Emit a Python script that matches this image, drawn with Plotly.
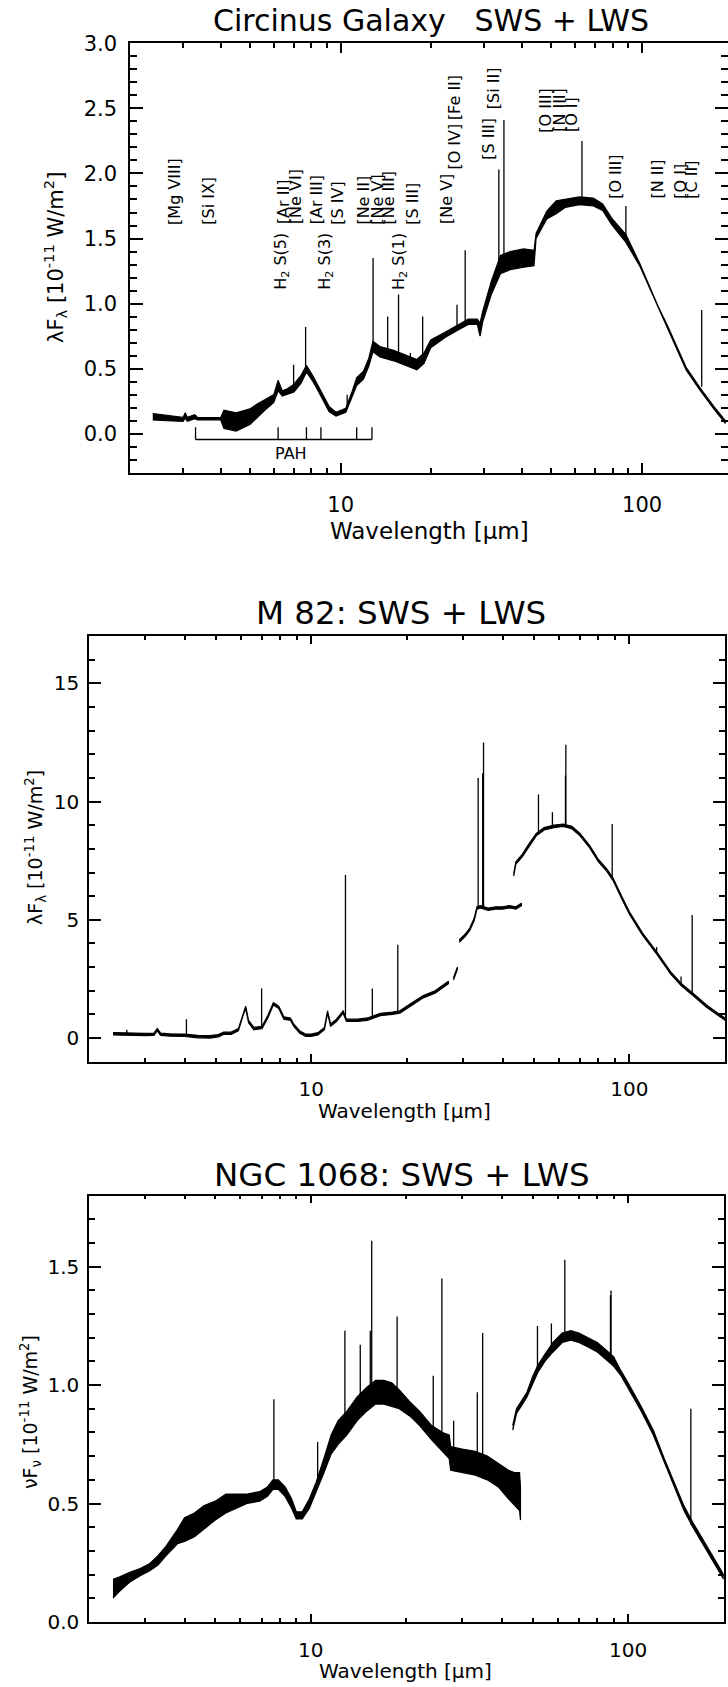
import math
import plotly.graph_objects as go

W, H = 728, 1687
FONT = "DejaVu Sans"

# ---------------- Circinus (panel 1) ----------------
circ_wl = [2.38, 2.65, 3.0, 3.05, 3.1, 3.28, 3.35, 3.64, 4.0, 4.1,
           4.5, 5.0, 5.3, 5.6, 6.0, 6.2, 6.4, 6.6, 7.0, 7.4,
           7.7, 8.1, 8.5, 9.15, 9.65, 10.4, 10.9, 11.3, 11.9, 12.4,
           12.8, 13.5, 15.0, 16.1, 17.9, 18.9, 19.9, 22.2, 24.7, 26.5,
           28.4, 29.0, 29.6, 31.6, 33.9, 36.5, 40.5, 43.8, 44.5, 48.3,
           51.9, 55.7, 62.0, 68.9, 74.0, 79.4, 88.4, 98.2, 113.0, 121.5,
           140.0, 156.0, 173.0, 189.0]
circ_flux = [0.13, 0.12, 0.11, 0.14, 0.11, 0.13, 0.115, 0.115, 0.115, 0.11,
             0.09, 0.13, 0.18, 0.22, 0.27, 0.37, 0.31, 0.32, 0.35, 0.42,
             0.50, 0.42, 0.33, 0.19, 0.15, 0.18, 0.30, 0.40, 0.45, 0.55,
             0.67, 0.63, 0.60, 0.57, 0.53, 0.58, 0.69, 0.76, 0.82, 0.86,
             0.86, 0.80, 0.90, 1.12, 1.30, 1.33, 1.35, 1.35, 1.52, 1.68,
             1.74, 1.77, 1.79, 1.78, 1.74, 1.63, 1.50, 1.30, 0.97, 0.82,
             0.50, 0.34, 0.20, 0.09]
circ_noise = [0.025, 0.02, 0.015, 0.02, 0.015, 0.015, 0.01, 0.008, 0.01, 0.07,
              0.07, 0.06, 0.05, 0.04, 0.03, 0.04, 0.02, 0.02, 0.03, 0.03,
              0.025, 0.02, 0.02, 0.02, 0.015, 0.015, 0.02, 0.03, 0.03, 0.03,
              0.04, 0.04, 0.04, 0.04, 0.04, 0.04, 0.03, 0.02, 0.02, 0.02,
              0.02, 0.05, 0.04, 0.05, 0.07, 0.07, 0.07, 0.06, 0.02, 0.03,
              0.05, 0.03, 0.03, 0.03, 0.025, 0.025, 0.03, 0.01, 0.01, 0.01,
              0.01, 0.01, 0.01, 0.01]
circ_line_wl = [6.98, 7.65, 10.51, 12.81, 14.32, 15.56, 17.03, 18.71, 24.32, 25.89,
                33.48, 34.81, 63.18, 88.36, 157.7]
circ_line_base = [0.35, 0.50, 0.19, 0.67, 0.62, 0.58, 0.55, 0.55, 0.82, 0.85,
                  1.30, 1.32, 1.79, 1.50, 0.36]
circ_line_peak = [0.53, 0.82, 0.30, 1.35, 0.90, 1.07, 0.62, 0.90, 0.99, 1.41,
                  2.03, 2.41, 2.25, 1.75, 0.95]
circ_label_text = ["[Mg VIII]", "[Si IX]", "H<sub>2</sub> S(5)", "[Ar II]", "[Ne VI]",
                   "[Ar III]", "H<sub>2</sub> S(3)", "[S IV]", "[Ne II]", "[Ne V]",
                   "[Ne III]", "H<sub>2</sub> S(1)", "[S III]", "[Ne V]", "[O IV]",
                   "[Fe II]", "[S III]", "[Si II]", "[O III]", "[N III]",
                   "[O I]", "[O III]", "[N II]", "[O I]", "[C II]"]
circ_label_wl = [3.03, 3.94, 6.91, 6.98, 7.65,
                 8.99, 9.66, 10.51, 12.81, 14.32,
                 15.56, 17.03, 18.71, 24.32, 25.89,
                 25.99, 33.48, 34.81, 51.81, 57.32,
                 63.18, 88.36, 121.9, 145.5, 157.7]
circ_label_level = [1.6, 1.6, 1.1, 1.6, 1.6,
                    1.6, 1.1, 1.6, 1.6, 1.6,
                    1.6, 1.1, 1.6, 1.6, 2.02,
                    2.40, 2.10, 2.49, 2.31, 2.31,
                    2.31, 1.80, 1.80, 1.80, 1.80]
pah_wl = [3.3, 6.2, 7.7, 8.6, 11.3, 12.7]
pah_bar_level = -0.045
pah_tick_top = 0.05

# ---------------- M 82 (panel 2) ----------------
m82_sws_a_wl = [2.38, 2.6, 3.0, 3.2, 3.28, 3.36, 3.6, 4.0, 4.4, 4.8,
                5.1, 5.3, 5.6, 5.9, 6.1, 6.22, 6.35, 6.6, 7.0, 7.3,
                7.6, 7.9, 8.2, 8.6, 8.8, 9.2, 9.6, 10.0, 10.5, 11.0,
                11.25, 11.5, 12.0, 12.6, 12.9, 14.0, 15.0, 16.5, 18.0, 19.0,
                20.5, 22.5, 24.5, 26.0, 27.0]
m82_sws_a_flux = [0.18, 0.16, 0.15, 0.16, 0.35, 0.16, 0.13, 0.12, 0.06, 0.05,
                  0.10, 0.20, 0.20, 0.35, 1.00, 1.30, 0.70, 0.40, 0.45, 0.90,
                  1.45, 1.30, 0.85, 0.80, 0.55, 0.25, 0.12, 0.12, 0.18, 0.40,
                  1.10, 0.55, 0.75, 1.10, 0.75, 0.75, 0.80, 1.00, 1.05, 1.10,
                  1.40, 1.75, 1.95, 2.20, 2.35]
m82_sws_b_wl = [28.0, 28.4, 28.8]
m82_sws_b_flux = [2.5, 2.7, 2.95]
m82_sws_c_wl = [29.2, 30.5, 31.5, 32.5, 33.2, 34.0, 36.0, 38.0, 40.0, 42.0, 44.0, 45.8]
m82_sws_c_flux = [4.1, 4.35, 4.6, 5.0, 5.5, 5.55, 5.45, 5.5, 5.5, 5.55, 5.5, 5.65]
m82_lws_wl = [43.3, 44.0, 46.0, 48.0, 51.0, 54.0, 58.0, 62.0, 66.0, 70.0,
              75.0, 80.0, 85.0, 89.0, 95.0, 100.0, 110.0, 122.0, 135.0, 146.0,
              160.0, 175.0, 190.0, 200.0]
m82_lws_flux = [6.9, 7.4, 7.7, 8.1, 8.6, 8.85, 8.95, 9.0, 8.9, 8.6,
                8.1, 7.5, 7.1, 6.7, 5.9, 5.3, 4.4, 3.6, 2.75, 2.25,
                1.8, 1.35, 1.0, 0.8]
m82_noise = 0.05
m82_line_wl = [2.63, 4.05, 6.98, 12.81, 15.56, 18.71, 33.48, 34.6, 34.81,
               51.81, 57.32, 63.0, 63.18, 88.36, 121.9, 145.5, 157.7]
m82_line_base = [0.16, 0.12, 0.45, 0.95, 0.82, 1.07, 5.5, 5.5, 5.55,
                 8.6, 8.92, 9.0, 9.0, 6.7, 3.6, 2.3, 1.85]
m82_line_peak = [0.35, 0.8, 2.1, 6.9, 2.1, 3.95, 11.0, 11.2, 12.5,
                 10.3, 9.55, 11.1, 12.4, 9.05, 3.85, 2.6, 5.2]

# ---------------- NGC 1068 (panel 3) ----------------
n1068_sws_wl = [2.38, 2.5, 2.7, 2.9, 3.1, 3.3, 3.5, 3.8, 4.0, 4.3,
                4.6, 5.0, 5.4, 5.8, 6.3, 6.9, 7.3, 7.6, 7.9, 8.3,
                8.7, 9.0, 9.4, 9.9, 10.4, 11.0, 11.6, 12.2, 13.0, 14.0,
                15.0, 16.0, 17.0, 18.0, 19.0, 20.5, 22.0, 24.0, 26.0, 27.3,
                27.6, 30.0, 33.0, 36.0, 39.0, 42.0, 44.0, 45.5, 45.8]
n1068_sws_flux = [0.14, 0.16, 0.19, 0.21, 0.23, 0.26, 0.30, 0.36, 0.39, 0.41,
                  0.44, 0.47, 0.50, 0.51, 0.52, 0.53, 0.55, 0.58, 0.58, 0.55,
                  0.50, 0.45, 0.45, 0.50, 0.57, 0.66, 0.75, 0.80, 0.84, 0.90,
                  0.94, 0.97, 0.97, 0.96, 0.94, 0.90, 0.86, 0.80, 0.76, 0.74,
                  0.69, 0.68, 0.67, 0.65, 0.62, 0.58, 0.56, 0.55, 0.50]
n1068_sws_noise = [0.04, 0.03, 0.02, 0.015, 0.015, 0.02, 0.02, 0.03, 0.05, 0.05,
                   0.05, 0.04, 0.04, 0.03, 0.02, 0.02, 0.02, 0.02, 0.02, 0.02,
                   0.02, 0.015, 0.015, 0.02, 0.02, 0.03, 0.04, 0.05, 0.05, 0.05,
                   0.05, 0.05, 0.05, 0.05, 0.04, 0.03, 0.03, 0.03, 0.04, 0.05,
                   0.05, 0.05, 0.05, 0.05, 0.05, 0.06, 0.07, 0.08, 0.07]
n1068_lws_wl = [43.3, 44.5, 46.0, 48.0, 50.0, 52.0, 55.0, 58.0, 62.0, 66.0,
                70.0, 75.0, 80.0, 85.0, 90.0, 95.0, 100.0, 110.0, 120.0, 130.0,
                140.0, 150.0, 160.0, 170.0, 180.0, 190.0, 200.0]
n1068_lws_flux = [0.82, 0.89, 0.92, 0.96, 1.02, 1.07, 1.12, 1.16, 1.20, 1.21,
                  1.20, 1.18, 1.16, 1.13, 1.10, 1.05, 1.00, 0.90, 0.80, 0.68,
                  0.58, 0.48, 0.41, 0.35, 0.29, 0.24, 0.19]
n1068_lws_noise = [0.01, 0.01, 0.01, 0.01, 0.015, 0.015, 0.015, 0.02, 0.02, 0.02,
                   0.02, 0.02, 0.02, 0.02, 0.02, 0.01, 0.01, 0.01, 0.01, 0.01,
                   0.01, 0.01, 0.01, 0.01, 0.01, 0.01, 0.01]
n1068_line_wl = [7.65, 10.51, 12.81, 14.32, 15.4, 15.56, 18.71, 24.32, 25.89, 28.2,
                 33.48, 34.81, 51.81, 57.32, 63.18, 88.0, 88.36, 157.7]
n1068_line_base = [0.58, 0.60, 0.82, 0.90, 0.93, 0.95, 0.96, 0.80, 0.76, 0.70,
                   0.67, 0.66, 1.07, 1.15, 1.20, 1.11, 1.11, 0.41]
n1068_line_peak = [0.94, 0.76, 1.23, 1.17, 1.23, 1.61, 1.29, 1.04, 1.45, 0.85,
                   0.97, 1.22, 1.25, 1.26, 1.53, 1.38, 1.40, 0.90]

# axis tick values
x_major_ticks = [10, 100]
x_minor_ticks = [2, 3, 4, 5, 6, 7, 8, 9, 20, 30, 40, 50, 60, 70, 80, 90]

fig = go.Figure()


def band(wl, flux, noise, xa, ya):
    if not isinstance(noise, list):
        noise = [noise] * len(wl)
    hi = [f + n for f, n in zip(flux, noise)]
    lo = [f - n for f, n in zip(flux, noise)]
    fig.add_trace(go.Scatter(x=wl + wl[::-1], y=hi + lo[::-1], mode="lines",
                             fill="toself", fillcolor="black",
                             line=dict(color="black", width=1.2),
                             xaxis=xa, yaxis=ya, hoverinfo="skip", showlegend=False))


def spikes(wl, base, peak, xa, ya):
    xs, ys = [], []
    for w, b, p in zip(wl, base, peak):
        xs += [w, w, None]
        ys += [b, p, None]
    fig.add_trace(go.Scatter(x=xs, y=ys, mode="lines",
                             line=dict(color="black", width=1.3),
                             xaxis=xa, yaxis=ya, hoverinfo="skip", showlegend=False))


# panel 1
band(circ_wl, circ_flux, circ_noise, "x", "y")
spikes(circ_line_wl, circ_line_base, circ_line_peak, "x", "y")
px, py = [pah_wl[0], pah_wl[-1], None], [pah_bar_level, pah_bar_level, None]
for w in pah_wl:
    px += [w, w, None]
    py += [pah_bar_level, pah_tick_top, None]
fig.add_trace(go.Scatter(x=px, y=py, mode="lines", line=dict(color="black", width=1.3),
                         xaxis="x", yaxis="y", hoverinfo="skip", showlegend=False))

# panel 2
band(m82_sws_a_wl, m82_sws_a_flux, m82_noise, "x2", "y2")
band(m82_sws_b_wl, m82_sws_b_flux, m82_noise, "x2", "y2")
band(m82_sws_c_wl, m82_sws_c_flux, m82_noise, "x2", "y2")
band(m82_lws_wl, m82_lws_flux, m82_noise, "x2", "y2")
spikes(m82_line_wl, m82_line_base, m82_line_peak, "x2", "y2")

# panel 3
band(n1068_sws_wl, n1068_sws_flux, n1068_sws_noise, "x3", "y3")
band(n1068_lws_wl, n1068_lws_flux, n1068_lws_noise, "x3", "y3")
spikes(n1068_line_wl, n1068_line_base, n1068_line_peak, "x3", "y3")

# geometry (pixels)
P1 = dict(l=130, r=727.5, t=43.3, b=472.7)
P2 = dict(l=89, r=725, t=636, b=1061.7)
P3 = dict(l=89, r=723.6, t=1195.7, b=1622)

p1_xmax = math.log10(2) + (P1["r"] - P1["l"]) / 301.4


def xax(P, rng, fsize, standoff, mlen, nlen, anchor):
    return dict(domain=[P["l"] / W, P["r"] / W], anchor=anchor, type="log", range=rng,
                tickmode="array", tickvals=x_major_ticks, ticktext=[str(v) for v in x_major_ticks],
                ticks="inside", ticklen=mlen, tickwidth=1.5, tickcolor="black",
                minor=dict(tickmode="array", tickvals=x_minor_ticks, ticks="inside",
                           ticklen=nlen, tickwidth=1.5, tickcolor="black", showgrid=False),
                showline=True, linecolor="black", linewidth=1.5, mirror="ticks",
                showgrid=False, zeroline=False, automargin=False,
                tickfont=dict(family=FONT, size=fsize, color="black"),
                ticklabelstandoff=standoff)


def yax(P, rng, vals, txt, minor_vals, fsize, standoff, mlen, nlen, anchor):
    return dict(domain=[1 - P["b"] / H, 1 - P["t"] / H], anchor=anchor, range=rng,
                tickmode="array", tickvals=vals, ticktext=txt,
                ticks="inside", ticklen=mlen, tickwidth=1.5, tickcolor="black",
                minor=dict(tickmode="array", tickvals=minor_vals, ticks="inside",
                           ticklen=nlen, tickwidth=1.5, tickcolor="black", showgrid=False),
                showline=True, linecolor="black", linewidth=1.5, mirror="ticks",
                showgrid=False, zeroline=False, automargin=False,
                tickfont=dict(family=FONT, size=fsize, color="black"),
                ticklabelstandoff=standoff)


p1_yvals = [0.0, 0.5, 1.0, 1.5, 2.0, 2.5, 3.0]
p2_yvals = [0, 5, 10, 15]
p3_yvals = [0.0, 0.5, 1.0, 1.5]

fig.update_layout(
    width=W, height=H, margin=dict(l=0, r=0, t=0, b=0),
    paper_bgcolor="white", plot_bgcolor="white", showlegend=False,
    xaxis=xax(P1, [math.log10(2), p1_xmax], 21, 12, 10, 5, "y"),
    yaxis=yax(P1, [-0.3, 3.0005], p1_yvals, ["%.1f" % v for v in p1_yvals],
              [i / 10 for i in range(-3, 31)], 21, 7, 13, 7, "x"),
    xaxis2=xax(P2, [math.log10(2), math.log10(200)], 20, 9, 8, 4, "y2"),
    yaxis2=yax(P2, [-1, 17], p2_yvals, [str(v) for v in p2_yvals],
               list(range(-1, 18)), 20, 4, 12, 6, "x2"),
    xaxis3=xax(P3, [math.log10(2), math.log10(200)], 20, 9, 8, 4, "y3"),
    yaxis3=yax(P3, [-0.0005, 1.8], p3_yvals, ["%.1f" % v for v in p3_yvals],
               [i / 10 for i in range(0, 19)], 20, 4, 12, 6, "x3"),
)

ann = []


def text_px(x, y, s, size, angle=0):
    ann.append(dict(x=x / W, y=1 - y / H, xref="paper", yref="paper", text=s,
                    showarrow=False, textangle=angle, xanchor="center", yanchor="middle",
                    font=dict(family=FONT, size=size, color="black")))


text_px(431, 21, "Circinus Galaxy\u00a0\u00a0 SWS + LWS", 30)
text_px(401, 613, "M 82: SWS + LWS", 32.5)
text_px(402, 1175, "NGC 1068: SWS + LWS", 32.5)
text_px(429, 531, "Wavelength [μm]", 23)
text_px(404, 1111, "Wavelength [μm]", 20)
text_px(405, 1671, "Wavelength [μm]", 20)
text_px(55, 258, "λF<sub>λ</sub> [10<sup>-11</sup> W/m<sup>2</sup>]", 21, -90)
text_px(35, 848, "λF<sub>λ</sub> [10<sup>-11</sup> W/m<sup>2</sup>]", 19, -90)
text_px(30, 1412, "νF<sub>ν</sub> [10<sup>-11</sup> W/m<sup>2</sup>]", 19, -90)

for s, w, lv in zip(circ_label_text, circ_label_wl, circ_label_level):
    ann.append(dict(x=math.log10(w), y=lv, xref="x", yref="y", text=s, showarrow=False,
                    textangle=-90, xanchor="right", yanchor="bottom", borderpad=0,
                    font=dict(family=FONT, size=16, color="black")))

ann.append(dict(x=math.log10(6.84), y=-0.155, xref="x", yref="y", text="PAH", showarrow=False,
                xanchor="center", yanchor="middle",
                font=dict(family=FONT, size=16, color="black")))

fig.update_layout(annotations=ann)
fig.write_html("out.html", config={"displayModeBar": False},
               post_script="document.body.style.margin='0px';")
